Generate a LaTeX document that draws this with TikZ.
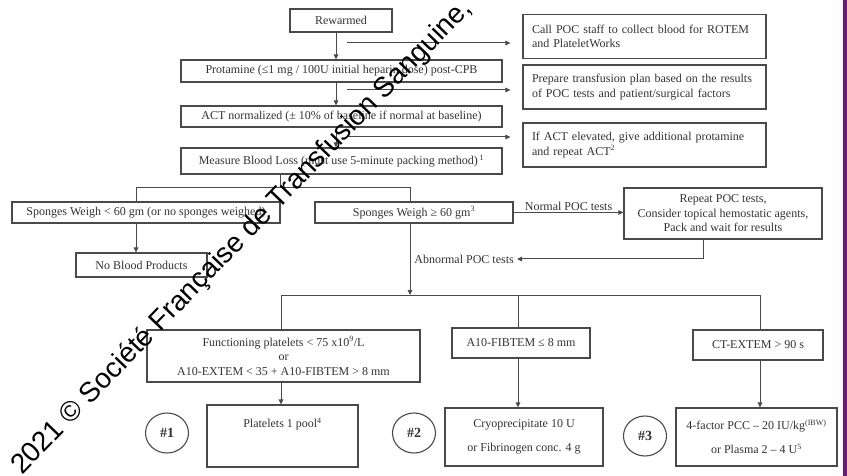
\documentclass[tikz,border=0pt]{standalone}
\usepackage{fontspec}
\setmainfont{Liberation Serif}
\newfontfamily\wmfont{Liberation Sans}
\usetikzlibrary{arrows.meta,calc}
\definecolor{lncol}{HTML}{4A4A4A}
\definecolor{txcol}{HTML}{333333}
\definecolor{purp}{HTML}{6A1B7A}
\begin{document}
\begin{tikzpicture}[x=1pt,y=-1pt,
  box/.style={draw=lncol, line width=1.1pt, text=txcol, font=\fontsize{12}{14.5}\selectfont, inner sep=2pt, align=center},
  lbox/.style={box, align=left, inner xsep=9pt, text width=225pt, minimum height=44pt},
  conn/.style={draw=lncol, line width=1pt},
  arr/.style={conn, -{Triangle[length=5pt,width=4.5pt]}},
  lbl/.style={text=txcol, font=\fontsize{12}{14}\selectfont, inner sep=1pt},
  oval/.style={ellipse, draw=lncol, line width=1.1pt, minimum width=43pt, minimum height=40pt, text=txcol, font=\fontsize{14}{16}\selectfont\bfseries, inner sep=0pt}]
\usetikzlibrary{shapes.geometric}
\useasboundingbox (0,0) rectangle (847,476);
\clip (0,0) rectangle (847,476);
\fill[white] (0,0) rectangle (847,476);
\fill[purp] (843,0) rectangle (847,476);

% main column
\node[box, minimum width=102pt, minimum height=23pt] (rew) at (341,20.5) {Rewarmed};
\node[box, minimum width=321pt, minimum height=22pt] (prot) at (341.5,71) {Protamine (≤1 mg / 100U initial heparin dose) post-CPB};
\node[box, minimum width=321pt, minimum height=21pt] (act) at (341.5,116.5) {ACT normalized (± 10\% of baseline if normal at baseline)};
\node[box, minimum width=321pt, minimum height=26pt] (meas) at (341.5,161) {Measure Blood Loss (must use 5-minute packing method)\,\textsuperscript{1}};

% right column
\node[lbox] (call) at (644.5,36.5) {Call POC staff to collect blood for ROTEM\\and PlateletWorks};
\node[lbox] (prep) at (644.5,87) {Prepare transfusion plan based on the results\\of POC tests and patient/surgical factors};
\node[lbox] (ifact) at (644.5,145) {If ACT elevated, give additional protamine\\and repeat ACT\textsuperscript{2}};

% sponges
\node[box, minimum width=268pt, minimum height=21pt] (spl) at (146,212.5) {Sponges Weigh < 60 gm (or no sponges weighed)};
\node[box, minimum width=198pt, minimum height=21pt] (spg) at (414,212.5) {Sponges Weigh ≥ 60 gm\textsuperscript{3}};
\node[box, minimum width=198pt, minimum height=51pt] (rep) at (723,213.5) {Repeat POC tests,\\Consider topical hemostatic agents,\\Pack and wait for results};
\node[box, minimum width=131pt, minimum height=24pt] (nob) at (141.5,265) {No Blood Products};

% tests
\node[box, minimum width=273pt, minimum height=52pt] (func) at (283.5,356) {Functioning platelets < 75 x10\textsuperscript{9}/L\\or\\A10-EXTEM < 35 + A10-FIBTEM > 8 mm};
\node[box, minimum width=138pt, minimum height=30pt] (fib) at (521,343) {A10-FIBTEM ≤ 8 mm};
\node[box, minimum width=130pt, minimum height=30pt] (ct) at (758,345) {CT-EXTEM > 90 s};

% products
\node[box, minimum width=151pt, minimum height=62pt, font=\fontsize{12}{26}\selectfont] (plat) at (282.5,436) {Platelets 1 pool\textsuperscript{4}\\\mbox{}};
\node[box, minimum width=158pt, minimum height=58pt, font=\fontsize{12}{24}\selectfont] (cryo) at (524,437) {Cryoprecipitate 10 U\\or Fibrinogen conc. 4 g};
\node[box, minimum width=161pt, minimum height=58pt, font=\fontsize{12}{24}\selectfont] (pcc) at (756.5,437) {4-factor PCC – 20 IU/kg\textsuperscript{(IBW)}\\or Plasma 2 – 4 U\textsuperscript{5}};

\node[oval] (o1) at (167,433) {\#1};
\node[oval] (o2) at (414,433) {\#2};
\node[oval] (o3) at (645,436) {\#3};

% connectors main column
\coordinate (vx) at (336,0);
\draw[arr] (rew.south -| vx) -- (prot.north -| vx);
\draw[arr] (prot.south -| vx) -- (act.north -| vx);
\draw[arr] (act.south -| vx) -- (meas.north -| vx);

\coordinate (s1) at (347,43);
\coordinate (s2) at (347,90);
\coordinate (s3) at (347,137);
\draw[arr, shorten >=12pt] (s1) -- (s1 -| call.west);
\draw[arr, shorten >=12pt] (s2) -- (s2 -| prep.west);
\draw[arr, shorten >=12pt] (s3) -- (s3 -| ifact.west);

% split to sponges
\coordinate (m1) at (280,188);
\coordinate (bl) at (136,188);
\coordinate (br) at (410,188);
\draw[conn] (meas.south -| m1) -- (m1);
\draw[conn] (bl |- spl.north) -- (bl) -- (br) -- (br |- spg.north);
\draw[arr] (spl.south -| bl) -- (nob.north -| bl);

\draw[arr] (spg.east) -- (spg.east -| rep.west) node[midway, above, lbl] {Normal POC tests};
\coordinate (rb) at (703,259);
\coordinate (ab) at (517,259);
\draw[arr] (rep.south -| rb) -- (rb) -- (ab);
\node[lbl, anchor=east] (abl) at (515,259) {Abnormal POC tests};

% split to tests
\coordinate (t0) at (410,295);
\coordinate (t1) at (281,295);
\coordinate (t2) at (518,295);
\coordinate (t3) at (760,295);
\draw[arr] (spg.south -| t0) -- (t0);
\draw[conn] (t1 |- func.north) -- (t1) -- (t3) -- (t3 |- ct.north);
\draw[conn] (t2) -- (t2 |- fib.north);

\draw[arr] (func.south -| t1) -- (plat.north -| t1);
\draw[arr] (fib.south -| t2) -- (cryo.north -| t2);
\draw[arr] (ct.south -| t3) -- (pcc.north -| t3);

% watermark
\node[rotate=46, anchor=base west, inner sep=0pt, font=\wmfont\fontsize{28}{30}\selectfont] (wm) at (22,476) {2021 © Société Française de Transfusion Sanguine, T};
\end{tikzpicture}
\end{document}
